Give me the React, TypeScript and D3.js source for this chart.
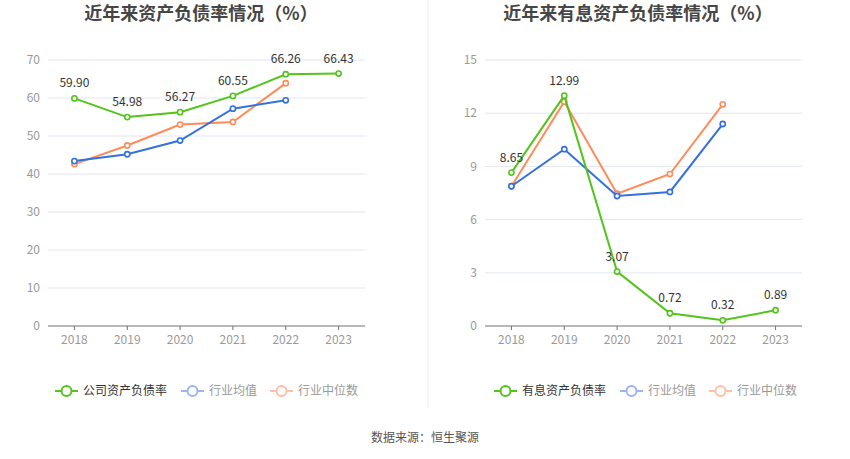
import React from "react";
import * as d3 from "d3";

const years = ["2018", "2019", "2020", "2021", "2022", "2023"];

const leftCompany = [59.9, 54.98, 56.27, 60.55, 66.26, 66.43];
const leftAvg = [43.4, 45.2, 48.8, 57.2, 59.4];
const leftMedian = [42.6, 47.5, 53.0, 53.7, 63.9];
const leftTicks = [0, 10, 20, 30, 40, 50, 60, 70];

const rightCompany = [8.65, 12.99, 3.07, 0.72, 0.32, 0.89];
const rightAvg = [7.88, 9.97, 7.33, 7.56, 11.39];
const rightMedian = [7.88, 12.65, 7.46, 8.57, 12.5];
const rightTicks = [0, 3, 6, 9, 12, 15];

const leftTitle = "近年来资产负债率情况（%）";
const rightTitle = "近年来有息资产负债率情况（%）";
const leftLegend = ["公司资产负债率", "行业均值", "行业中位数"];
const rightLegend = ["有息资产负债率", "行业均值", "行业中位数"];
const source = "数据来源：恒生聚源";

const GREEN = "#52c41a";
const BLUE = "#3470e0";
const ORANGE = "#ff8b5a";
const FONT = "'Noto Sans CJK SC', 'Noto Sans', sans-serif";

type PanelProps = {
  x0: number;
  x1: number;
  yMax: number;
  ticks: number[];
  company: number[];
  avg: number[];
  median: number[];
  title: string;
  titleX: number;
  legend: string[];
  legendX: number[];
};

function Panel(p: PanelProps) {
  const top = 60;
  const bottom = 326;
  const x = d3.scaleBand<string>().domain(years).range([p.x0, p.x1]);
  const y = d3.scaleLinear().domain([0, p.yMax]).range([bottom, top]);
  const cx = (i: number) => (x(years[i]) as number) + x.bandwidth() / 2;
  const line = d3
    .line<number>()
    .x((_, i) => cx(i))
    .y((d) => y(d));

  const series = [
    { data: p.median, color: ORANGE },
    { data: p.avg, color: BLUE },
    { data: p.company, color: GREEN },
  ];

  const legendColors = [GREEN, "#9ab6f2", "#ffbfa5"];
  const legendText = ["#333", "#999", "#999"];

  return (
    <g>
      <text
        x={p.titleX}
        y={20}
        textAnchor="middle"
        fontSize={18}
        fontWeight="bold"
        fill="#464646"
        fontFamily={FONT}
      >
        {p.title}
      </text>
      {p.ticks.map((t) => (
        <g key={t}>
          {t !== 0 && (
            <line x1={p.x0} x2={p.x1} y1={y(t)} y2={y(t)} stroke="#e0e6f1" strokeWidth={1} />
          )}
          <text
            x={p.x0 - 8}
            y={y(t)}
            dy="0.35em"
            textAnchor="end"
            fontSize={12}
            fill="#999"
            fontFamily={FONT}
          >
            {t}
          </text>
        </g>
      ))}
      <line x1={p.x0} x2={p.x1} y1={bottom} y2={bottom} stroke="#6e7079" strokeWidth={1} />
      {years.map((yr, i) => (
        <g key={yr}>
          <line x1={cx(i)} x2={cx(i)} y1={bottom} y2={bottom + 4} stroke="#6e7079" />
          <text
            x={cx(i)}
            y={bottom + 18}
            textAnchor="middle"
            fontSize={12}
            fill="#999"
            fontFamily={FONT}
          >
            {yr}
          </text>
        </g>
      ))}
      {series.map((s, si) => (
        <g key={si}>
          <path d={line(s.data) || ""} fill="none" stroke={s.color} strokeWidth={2} />
          {s.data.map((v, i) => (
            <circle
              key={i}
              cx={cx(i)}
              cy={y(v)}
              r={2.6}
              fill="#fff"
              stroke={s.color}
              strokeWidth={1.6}
            />
          ))}
        </g>
      ))}
      {p.company.map((v, i) => (
        <text
          key={i}
          x={cx(i)}
          y={y(v) - 11}
          textAnchor="middle"
          fontSize={12}
          fill="#333"
          fontFamily={FONT}
        >
          {v.toFixed(2)}
        </text>
      ))}
      {p.legend.map((name, i) => {
        const lx = p.legendX[i];
        const ly = 391;
        return (
          <g key={name}>
            <line x1={lx} x2={lx + 23} y1={ly} y2={ly} stroke={legendColors[i]} strokeWidth={2} />
            <circle cx={lx + 11.5} cy={ly} r={5} fill="#fff" stroke={legendColors[i]} strokeWidth={2} />
            <text
              x={lx + 28}
              y={ly}
              dy="0.35em"
              fontSize={12}
              fill={legendText[i]}
              fontFamily={FONT}
            >
              {name}
            </text>
          </g>
        );
      })}
    </g>
  );
}

export default function App() {
  return (
    <svg
      width={850}
      height={459}
      style={{ position: "absolute", left: 0, top: 0, background: "#fff" }}
    >
      <rect width={850} height={459} fill="#fff" />
      <line x1={428} x2={428} y1={0} y2={408} stroke="#eeeeee" strokeWidth={1} />
      <Panel
        x0={48}
        x1={365}
        yMax={70}
        ticks={leftTicks}
        company={leftCompany}
        avg={leftAvg}
        median={leftMedian}
        title={leftTitle}
        titleX={201}
        legend={leftLegend}
        legendX={[55, 181, 270]}
      />
      <Panel
        x0={485}
        x1={802}
        yMax={15}
        ticks={rightTicks}
        company={rightCompany}
        avg={rightAvg}
        median={rightMedian}
        title={rightTitle}
        titleX={638}
        legend={rightLegend}
        legendX={[494, 620, 709]}
      />
      <text
        x={425}
        y={438}
        dy="0.35em"
        textAnchor="middle"
        fontSize={12}
        fill="#555"
        fontFamily={FONT}
      >
        {source}
      </text>
    </svg>
  );
}
